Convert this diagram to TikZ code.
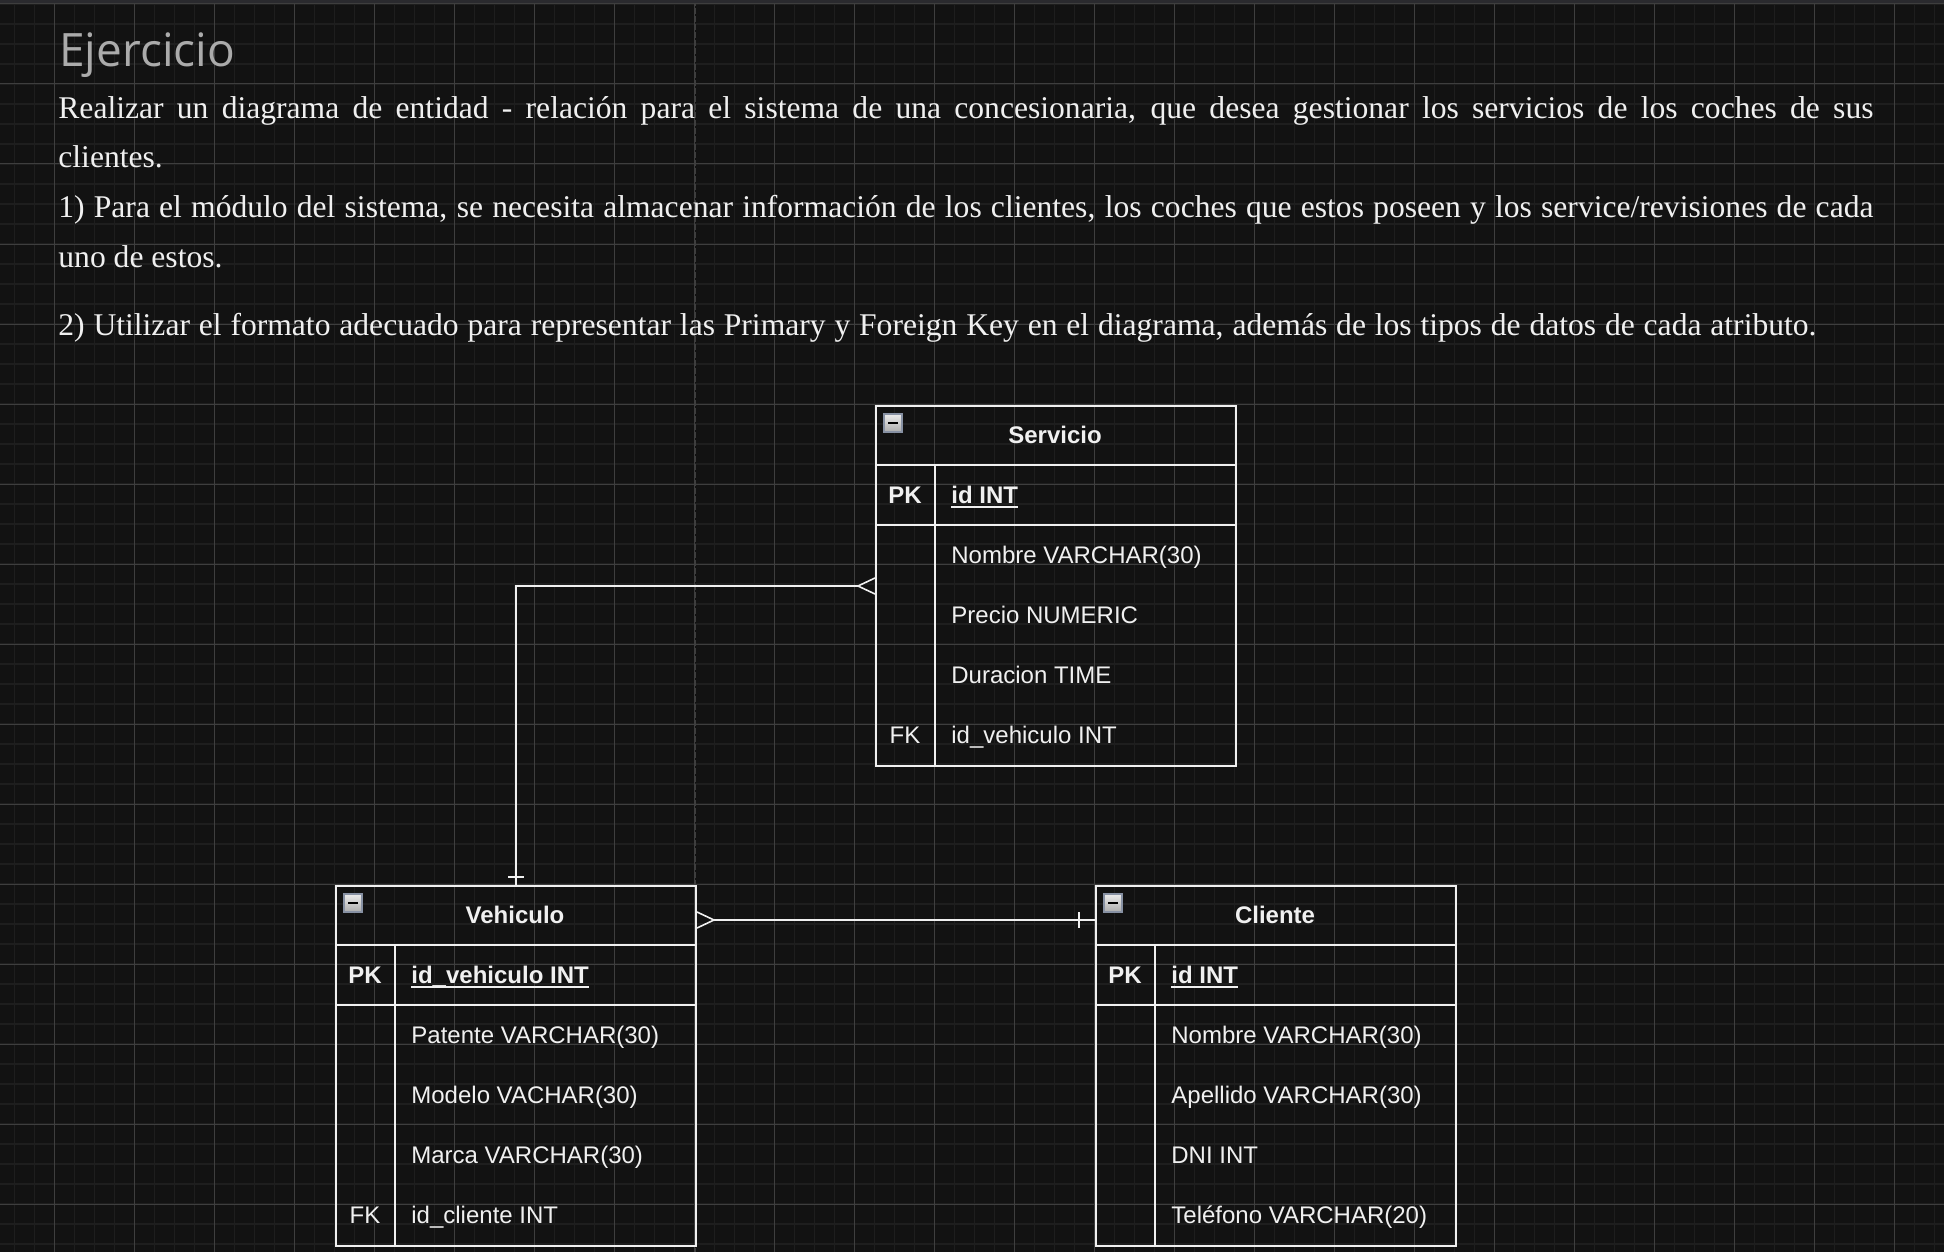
\documentclass[tikz,border=0pt]{standalone}
\usepackage{fontspec}
\setmainfont{Liberation Serif}
\newfontfamily\tablafont{Liberation Sans}
\newfontfamily\titulofont{Open Sans}
\usetikzlibrary{calc}
\definecolor{fondo}{HTML}{121212}
\definecolor{rejilla}{HTML}{1E1E1E}
\definecolor{rejillamayor}{HTML}{3E3E3E}
\definecolor{trazo}{HTML}{F0F0F0}
\definecolor{gristit}{HTML}{ABABAB}
\definecolor{marco}{HTML}{8791A3}
\definecolor{franja}{HTML}{2A2A2E}
\tikzset{
  menor/.style={draw=rejilla, line width=0.8pt},
  mayor/.style={draw=rejillamayor, line width=0.5pt},
  corte/.style={draw=rejillamayor, line width=0.6pt, dash pattern=on 3pt off 1pt},
  caja/.style={draw=trazo, line width=1pt, minimum width=180pt, minimum height=180pt, inner sep=0pt},
  borde/.style={draw=trazo, line width=1pt},
  rel/.style={draw=trazo, line width=0.8pt},
  titulo/.style={text=trazo, font=\tablafont\fontsize{12pt}{14pt}\selectfont\bfseries, inner sep=0pt, anchor=base},
  clave/.style={text=trazo, font=\tablafont\fontsize{12pt}{14pt}\selectfont, inner sep=0pt, anchor=base},
  campo/.style={text=trazo, font=\tablafont\fontsize{12pt}{14pt}\selectfont, inner sep=0pt, anchor=base west},
  texto/.style={text=trazo, font=\fontsize{15.8pt}{19pt}\selectfont, inner sep=0pt, anchor=base west}
}
\begin{document}
\begin{tikzpicture}[x=0.5pt, y=-0.5pt]
\useasboundingbox (0,0) rectangle (1944,1252);
\fill[fondo] (0,0) rectangle (1944,1252);
% rejilla de fondo
\foreach \gx in {14.6,34.6,...,1944} \draw[menor] (\gx,0) -- (\gx,1252);
\foreach \gy in {4,24,...,1252} \draw[menor] (0,\gy) -- (1944,\gy);
\foreach \gx in {54.6,134.6,...,1944} \draw[mayor] (\gx,0) -- (\gx,1252);
\foreach \gy in {4,84,...,1252} \draw[mayor] (0,\gy) -- (1944,\gy);
\draw[corte] (695,0) -- (695,1252);
\fill[franja] (0,0) rectangle (1944,3);

% enunciado
\node[anchor=base west, inner sep=0pt, text=gristit, font=\titulofont\fontsize{23pt}{27pt}\selectfont] (titulo) at (59,67) {Ejercicio};
\node[texto] (l1) at (58,119) {\makebox[907.5pt][s]{Realizar un diagrama de entidad - relación para el sistema de una concesionaria, que desea gestionar los servicios de los coches de sus}};
\node[texto] (l2) at (58,168) {clientes.};
\node[texto] (l3) at (58,217) {\makebox[907.5pt][s]{1) Para el módulo del sistema, se necesita almacenar información de los clientes, los coches que estos poseen y los service/revisiones de cada}};
\node[texto] (l4) at (58,267) {uno de estos.};
\node[texto] (l5) at (58,335) {\makebox[879pt][s]{2) Utilizar el formato adecuado para representar las Primary y Foreign Key en el diagrama, además de los tipos de datos de cada atributo.}};

\def\tabla#1#2#3#4#5#6{
\begin{scope}[shift={(#2,#3)}]
\node[caja, anchor=north west] (#1) at (0,0) {};
\draw[borde] (0,60) -- (360,60) (0,120) -- (360,120) (60,60) -- (60,360);
\shade[top color=gray!15, bottom color=gray!65] (9,9) rectangle (27,27);
\draw[marco, line width=0.75pt] (9,9) rectangle (27,27);
\draw[black, line width=1pt] (13,18) -- (23,18);
\node[titulo] (#1-t) at (180,38) {#4};
\node[clave, font=\tablafont\fontsize{12pt}{14pt}\selectfont\bfseries] (#1-pk) at (30,98) {PK};
\node[campo, font=\tablafont\fontsize{12pt}{14pt}\selectfont\bfseries] (#1-id) at (76,98) {#5};
\draw[trazo, line width=1pt] ($(#1-id.base west)+(0,4)$) -- ($(#1-id.base east)+(0,4)$);
\foreach \etq/\atr [count=\n] in {#6} {
  \node[clave] (#1-k\n) at (30,98+60*\n) {\etq};
  \node[campo] (#1-a\n) at (76,98+60*\n) {\atr};
}
\end{scope}
}
\tabla{servicio}{875}{405}{Servicio}{id INT}{/Nombre VARCHAR(30), /Precio NUMERIC, /Duracion TIME, FK/id\_vehiculo INT}
\tabla{vehiculo}{335}{885}{Vehiculo}{id\_vehiculo INT}{/Patente VARCHAR(30), /Modelo VACHAR(30), /Marca VARCHAR(30), FK/id\_cliente INT}
\tabla{cliente}{1095}{885}{Cliente}{id INT}{/Nombre VARCHAR(30), /Apellido VARCHAR(30), /DNI INT, /Teléfono VARCHAR(20)}

% relaciones
\draw[rel, shorten <=8.5pt] (servicio.west) -| (vehiculo.north);
\draw[rel] ($(servicio.west)+(-17,0)$) -- ($(servicio.west)+(0,-8)$) ($(servicio.west)+(-17,0)$) -- ($(servicio.west)+(0,8)$);
\draw[rel] ($(vehiculo.north)+(-8,-8)$) -- ($(vehiculo.north)+(8,-8)$);

\coordinate (v-der) at ($(vehiculo.north east)+(0,35)$);
\coordinate (c-izq) at (v-der -| cliente.west);
\draw[rel, shorten <=8.5pt] (v-der) -- (c-izq);
\draw[rel] ($(v-der)+(17,0)$) -- ($(v-der)+(0,-8)$) ($(v-der)+(17,0)$) -- ($(v-der)+(0,8)$);
\draw[rel] ($(c-izq)+(-16,-8)$) -- ($(c-izq)+(-16,8)$);
\end{tikzpicture}
\end{document}
